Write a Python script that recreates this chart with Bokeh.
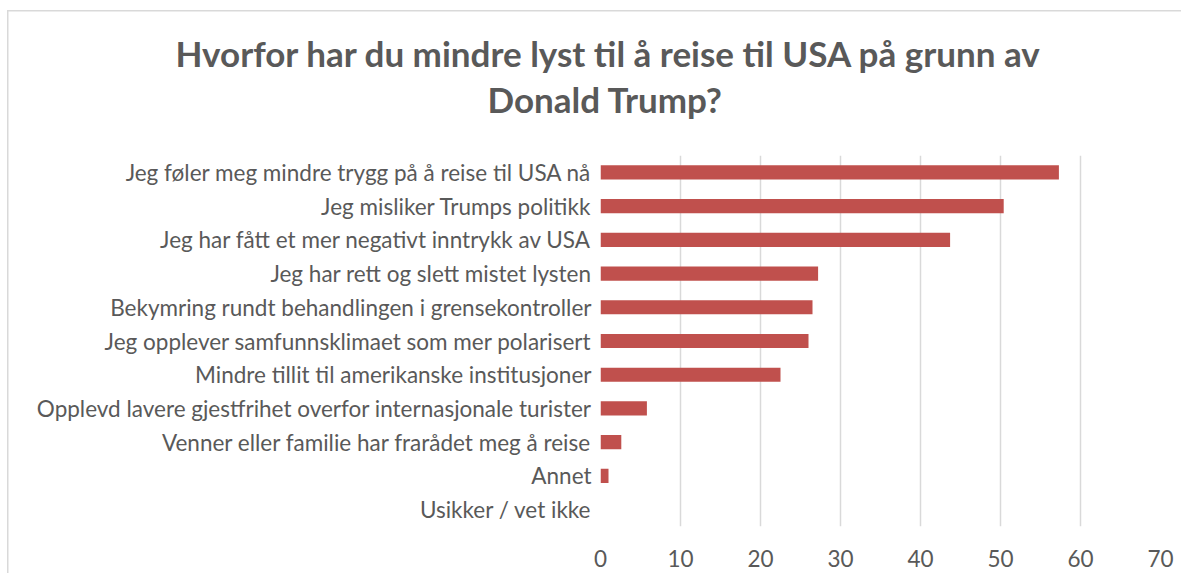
from bokeh.plotting import figure
from bokeh.models import Range1d, FixedTicker, Title
from bokeh.embed import file_html
from bokeh.resources import INLINE

categories = [
    "Jeg føler meg mindre trygg på å reise til USA nå",
    "Jeg misliker Trumps politikk",
    "Jeg har fått et mer negativt inntrykk av USA",
    "Jeg har rett og slett mistet lysten",
    "Bekymring rundt behandlingen i grensekontroller",
    "Jeg opplever samfunnsklimaet som mer polarisert",
    "Mindre tillit til amerikanske institusjoner",
    "Opplevd lavere gjestfrihet overfor internasjonale turister",
    "Venner eller familie har frarådet meg å reise",
    "Annet",
    "Usikker / vet ikke",
]
values = [57.3, 50.4, 43.7, 27.2, 26.5, 26.0, 22.5, 5.8, 2.6, 1.0, 0.0]
x_ticks = [0, 10, 20, 30, 40, 50, 60, 70]
title_lines = ["Hvorfor har du mindre lyst til å reise til USA på grunn av", "Donald Trump?"]

FONT = "Lato"
TEXT = "#595959"
GRID = "#d9d9d9"

positions = list(range(len(categories)))

p = figure(width=1181, height=573, output_backend="svg", toolbar_location=None,
           x_range=Range1d(0, 70), y_range=Range1d(len(categories) - 0.5, -0.5),
           min_border_left=600, min_border_right=21, min_border_top=155, min_border_bottom=47)
p.background_fill_color = None
p.border_fill_color = None
p.styles = {"background": (f"linear-gradient({GRID},{GRID}) 7px 10px / 1.5px 100% no-repeat, "
                           f"linear-gradient({GRID},{GRID}) 7px 10px / 100% 1.5px no-repeat, white")}

p.hbar(y=positions, right=values, left=0, height=0.42, fill_color="#C0504D", line_color=None)

p.xaxis.ticker = FixedTicker(ticks=x_ticks)
p.yaxis.ticker = FixedTicker(ticks=positions)
p.yaxis.major_label_overrides = {i: c for i, c in enumerate(categories)}

for ax in (p.xaxis[0], p.yaxis[0]):
    ax.axis_line_color = None
    ax.major_tick_line_color = None
    ax.minor_tick_line_color = None
    ax.major_label_text_font = FONT
    ax.major_label_text_font_size = "22.5px"
    ax.major_label_text_color = TEXT
p.yaxis.major_label_standoff = 3
p.xaxis.major_label_standoff = 17

p.xgrid.grid_line_color = GRID
p.xgrid.grid_line_width = 1.5
p.ygrid.grid_line_color = None
p.outline_line_color = None

# spacer between frame and title
p.add_layout(Title(text=" ", text_font_size="30px", standoff=0), "above")
p.add_layout(Title(text=title_lines[1], align="left", offset=-113, text_font=FONT,
                   text_font_size="35px", text_font_style="bold", text_color=TEXT, standoff=2), "above")
p.add_layout(Title(text=title_lines[0], align="left", offset=-425, text_font=FONT,
                   text_font_size="35px", text_font_style="bold", text_color=TEXT, standoff=2), "above")

open("out.html", "w").write(file_html(p, INLINE))
